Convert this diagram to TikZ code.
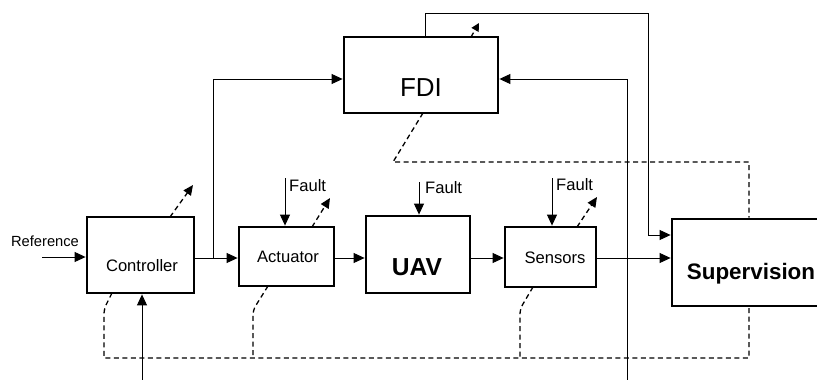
\documentclass[tikz,border=0pt]{standalone}
\usepackage{fontspec}
\setmainfont{Liberation Sans}
\usetikzlibrary{arrows.meta}
\begin{document}
\begin{tikzpicture}[x=1pt,y=-1pt,
  blk/.style={draw,line width=2.8pt,inner sep=0pt,fill=white},
  txt/.style={inner sep=0pt,font=\fontsize{16.6}{19}\selectfont},
  bigtxt/.style={inner sep=0pt,font=\fontsize{24.6}{28}\selectfont\bfseries},
  conn/.style={line width=1pt,-{Triangle[length=11pt,width=10pt]}},
  dsh/.style={line width=1.3pt,dash pattern=on 5pt off 3.5pt,line join=round},
  dsharr/.style={dsh,-{Triangle[length=10pt,width=9pt]}}]
\fill[white] (0,0) rectangle (817,380);
\useasboundingbox (0,0) rectangle (817,380);
% boxes
\node[blk,minimum width=107pt,minimum height=76pt] (ctrl) at (140.5,255) {};
\node[blk,minimum width=95pt,minimum height=59pt] (act) at (286.5,256.5) {};
\node[blk,minimum width=104pt,minimum height=77pt] (uav) at (418,254.5) {};
\node[blk,minimum width=91pt,minimum height=60pt] (sens) at (550.5,257) {};
\node[blk,minimum width=154pt,minimum height=76pt] (fdi) at (421,75) {};
\node[blk,minimum width=168pt,minimum height=87pt] (sup) at (756,262.5) {};
% texts
\node[txt] (tctrl) at (142,266) {Controller};
\node[txt] (tact) at (288,257) {Actuator};
\node[bigtxt] (tuav) at (417,267) {UAV};
\node[txt] (tsens) at (555,258) {Sensors};
\node[inner sep=0pt,font=\fontsize{26}{30}\selectfont] (tfdi) at (421,88) {FDI};
\node[inner sep=0pt,font=\fontsize{22.4}{26}\selectfont\bfseries] (tsup) at (751,274) {Supervision};
\node[inner sep=0pt,font=\fontsize{14.7}{17}\selectfont] (tref) at (45,241) {Reference};
\node[txt,anchor=west] (f1) at (289,186) {Fault};
\node[txt,anchor=west] (f2) at (425,188) {Fault};
\node[txt,anchor=west] (f3) at (556,185) {Fault};
% coordinates
\coordinate (refin) at (42,257);
\coordinate (br) at (213,258);
\coordinate (fdiin) at (213,79);
\coordinate (top1) at (425,13);
\coordinate (top2) at (648,13);
\coordinate (supin1) at (648,235);
\coordinate (bot1) at (627,380);
\coordinate (fdiin2) at (627,79);
\coordinate (bot2) at (142,380);
\coordinate (fa1) at (285,178);
\coordinate (fa2) at (419,182);
\coordinate (fa3) at (552,178);
\coordinate (cd1) at (170,217);
\coordinate (cd2) at (193,185);
\coordinate (ad1) at (312,227);
\coordinate (ad2) at (330,198);
\coordinate (sd1) at (577,227);
\coordinate (sd2) at (597,197);
\coordinate (fd1) at (471,37);
\coordinate (fd2) at (479,23);
\coordinate (lb1) at (112,293);
\coordinate (lb2) at (104,309);
\coordinate (lb3) at (104,358);
\coordinate (ab1) at (268,286);
\coordinate (ab2) at (253,310);
\coordinate (ab3) at (253,358);
\coordinate (sb1) at (533,287);
\coordinate (sb2) at (520,309);
\coordinate (sb3) at (520,358);
\coordinate (rb) at (749,358);
\coordinate (fb1) at (423,113);
\coordinate (fb2) at (393,162);
\coordinate (rt) at (749,162);
% solid connectors
\draw[conn] (refin) -- (refin -| ctrl.west);
\draw[conn] (ctrl.east |- br) -- (br -| act.west);
\draw[conn] (br) -- (fdiin) -- (fdiin -| fdi.west);
\draw[conn] (act.east |- br) -- (br -| uav.west);
\draw[conn] (uav.east |- br) -- (br -| sens.west);
\draw[conn] (sens.east |- br) -- (br -| sup.west);
\draw[conn] (top1 |- fdi.north) -- (top1) -- (top2) -- (supin1) -- (supin1 -| sup.west);
\draw[conn] (bot1) -- (fdiin2) -- (fdiin2 -| fdi.east);
\draw[conn] (bot2) -- (bot2 |- ctrl.south);
\draw[conn] (fa1) -- (fa1 |- act.north);
\draw[conn] (fa2) -- (fa2 |- uav.north);
\draw[conn] (fa3) -- (fa3 |- sens.north);
% dashed arrows
\draw[dsharr] (cd1) -- (cd2);
\draw[dsharr] (ad1) -- (ad2);
\draw[dsharr] (sd1) -- (sd2);
\draw[dsh,-{Triangle[length=8pt,width=8pt]}] (fd1) -- (fd2);
% dashed feedback lines
\draw[dsh] (lb1) [rounded corners=5pt]-- (lb2) [sharp corners]-- (lb3) -- (rb) -- (rb |- sup.south);
\draw[dsh,rounded corners=5pt] (ab1) -- (ab2) -- (ab3);
\draw[dsh,rounded corners=5pt] (sb1) -- (sb2) -- (sb3);
\draw[dsh] (fb1) -- (fb2) -- (rt) -- (rt |- sup.north);
\end{tikzpicture}
\end{document}
